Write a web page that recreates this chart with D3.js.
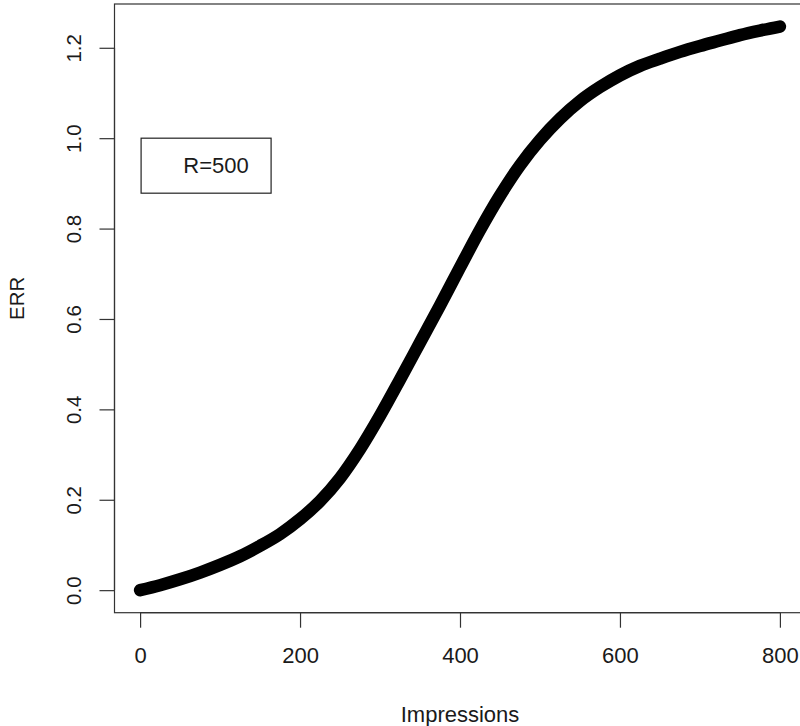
<!DOCTYPE html>
<html>
<head>
<meta charset="utf-8">
<script src="https://cdn.jsdelivr.net/npm/d3@7"></script>
<style>
  html, body { margin: 0; padding: 0; background: #fff; }
  svg { display: block; }
  text { font-family: "Liberation Sans", Arial, sans-serif; fill: #1a1a1a; }
</style>
</head>
<body>
<svg id="chart" width="800" height="726"></svg>
<script>
// ---- data ----
const impressions = [0, 25, 50, 75, 100, 125, 150, 175, 200, 225, 250, 275, 300, 325, 350, 375, 400, 425, 450, 475, 500, 525, 550, 575, 600, 625, 650, 675, 700, 725, 750, 775, 800];
const err = [0.000, 0.011, 0.024, 0.039, 0.056, 0.075, 0.098, 0.124, 0.157, 0.197, 0.248, 0.312, 0.386, 0.466, 0.548, 0.630, 0.714, 0.797, 0.873, 0.940, 0.996, 1.043, 1.082, 1.113, 1.139, 1.160, 1.176, 1.191, 1.204, 1.216, 1.228, 1.238, 1.247];
const xTicks = [0, 200, 400, 600, 800];
const yTicks = [0.0, 0.2, 0.4, 0.6, 0.8, 1.0, 1.2];
const xTitle = "Impressions";
const yTitle = "ERR";
const legendLabel = "R=500";
const legendAnchor = [0, 1.0];

// ---- layout ----
const svg = d3.select("#chart");
const plotLeft = 114.5, plotRight = 805.5, plotTop = 4, plotBottom = 612.7;

const xMin = d3.min(impressions), xMax = d3.max(impressions);
const yMin = d3.min(err), yMax = d3.max(err);
const xPad = (xMax - xMin) * 0.04, yPad = (yMax - yMin) * 0.04;

const x = d3.scaleLinear().domain([xMin - xPad, xMax + xPad]).range([plotLeft, plotRight]);
const y = d3.scaleLinear().domain([yMin - yPad, yMax + yPad]).range([plotBottom, plotTop]);

const hFont = 22;   // horizontal text
const vFont = 20.5; // rotated text
const fam = '"Liberation Sans", Arial, sans-serif';

// frame
svg.append("rect")
  .attr("x", plotLeft).attr("y", plotTop)
  .attr("width", plotRight - plotLeft).attr("height", plotBottom - plotTop)
  .attr("fill", "none").attr("stroke", "#333").attr("stroke-width", 1.2);

// x axis
const xAxis = d3.axisBottom(x).tickValues(xTicks).tickFormat(d3.format("d")).tickSize(15).tickPadding(20);
const gx = svg.append("g").attr("transform", `translate(0,${plotBottom})`).call(xAxis);
gx.select(".domain").attr("d", `M${x(xTicks[0])},0H${x(xTicks[xTicks.length-1])}`).attr("stroke", "#333").attr("stroke-width", 1.2);
gx.selectAll(".tick line").attr("stroke", "#333").attr("stroke-width", 1.2);
gx.selectAll(".tick text").style("font-size", hFont + "px").attr("fill", "#1a1a1a").style("font-family", fam);

// y axis
const yAxis = d3.axisLeft(y).tickValues(yTicks).tickFormat(d3.format(".1f")).tickSize(15).tickPadding(0);
const gy = svg.append("g").attr("transform", `translate(${plotLeft},0)`).call(yAxis);
gy.select(".domain").attr("d", `M0,${y(yTicks[0])}V${y(yTicks[yTicks.length-1])}`).attr("stroke", "#333").attr("stroke-width", 1.2);
gy.selectAll(".tick line").attr("stroke", "#333").attr("stroke-width", 1.2);
gy.selectAll(".tick text")
  .attr("x", null)
  .attr("text-anchor", "middle")
  .attr("transform", "translate(-41,0) rotate(-90)")
  .attr("dy", "0.35em")
  .style("font-size", vFont + "px").attr("fill", "#1a1a1a").style("font-family", fam);

// axis titles
svg.append("text")
  .attr("x", (plotLeft + plotRight) / 2).attr("y", 722)
  .attr("text-anchor", "middle")
  .style("font-size", hFont + "px")
  .text(xTitle);
svg.append("text")
  .attr("transform", `translate(24,${(plotTop + plotBottom) / 2 - 10}) rotate(-90)`)
  .attr("text-anchor", "middle")
  .style("font-size", vFont + "px")
  .text(yTitle);

// curve (dense thick marker trail)
const line = d3.line()
  .x((d, i) => x(impressions[i]))
  .y(d => y(d))
  .curve(d3.curveCatmullRom.alpha(0.5));
svg.append("path")
  .datum(err)
  .attr("d", line)
  .attr("fill", "none")
  .attr("stroke", "#000")
  .attr("stroke-width", 12.5)
  .attr("stroke-linecap", "round")
  .attr("stroke-linejoin", "round");

// legend
const lx = x(legendAnchor[0]) + 1, ly = y(legendAnchor[1]);
const lw = 130, lh = 55;
svg.append("rect")
  .attr("x", lx).attr("y", ly).attr("width", lw).attr("height", lh)
  .attr("fill", "#fff").attr("stroke", "#222").attr("stroke-width", 1.2);
svg.append("text")
  .attr("x", lx + lw / 2 + 10).attr("y", ly + lh / 2)
  .attr("dy", "0.35em")
  .attr("text-anchor", "middle")
  .style("font-size", hFont + "px")
  .text(legendLabel);
</script>
</body>
</html>
